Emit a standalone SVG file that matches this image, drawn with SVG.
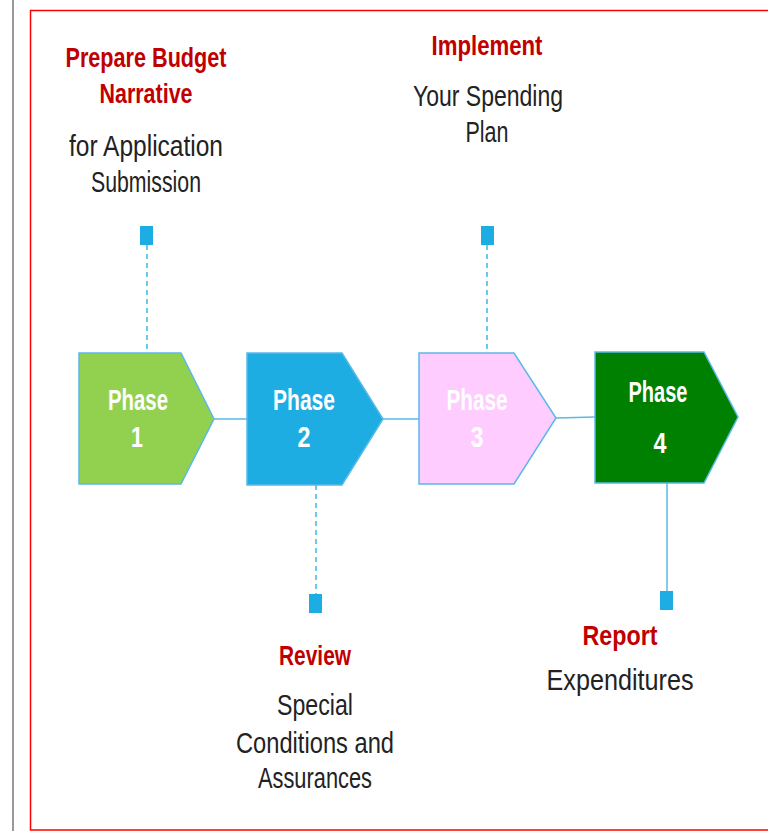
<svg xmlns="http://www.w3.org/2000/svg" width="768" height="831" viewBox="0 0 768 831">
<style>
.head{font-family:"Liberation Sans",Arial,sans-serif;font-weight:bold;font-size:28px;fill:#C00000;text-anchor:middle}
.body{font-family:"Liberation Sans",Arial,sans-serif;font-size:29px;fill:#222222;text-anchor:middle}
.ph{font-family:"Liberation Sans",Arial,sans-serif;font-weight:bold;font-size:29px;fill:#FFFFFF;text-anchor:middle}
.shape{stroke:#5BB8E8;stroke-width:1.5}
.dash{stroke:#1EADE3;stroke-width:1.3;stroke-dasharray:5,4;fill:none}
.solid{stroke:#5BB8E8;stroke-width:1.5;fill:none}
.sq{fill:#1EADE3}
</style>
<rect width="768" height="831" fill="#FFFFFF"/>
<line x1="13" y1="0" x2="13" y2="831" stroke="#999999" stroke-width="2"/>
<rect x="30.5" y="10.5" width="760" height="819.5" fill="none" stroke="#FF0000" stroke-width="1.5"/>
<g id="connectors">
<line class="solid" x1="214" y1="419" x2="247" y2="419"/>
<line class="solid" x1="383" y1="419" x2="419" y2="419"/>
<line class="solid" x1="556" y1="418" x2="595" y2="417" stroke-width="2"/>
<line class="dash" x1="147" y1="245" x2="147" y2="353"/>
<rect class="sq" x="140" y="226" width="13" height="19"/>
<line class="dash" x1="316" y1="485" x2="316" y2="594"/>
<rect class="sq" x="309" y="594" width="13" height="19"/>
<line class="dash" x1="487" y1="245" x2="487" y2="353"/>
<rect class="sq" x="481" y="226" width="13" height="19"/>
<line class="solid" x1="667" y1="483" x2="667" y2="591"/>
<rect class="sq" x="660" y="591" width="13" height="19"/>
</g>
<g id="phase1">
<polygon class="shape" fill="#92D050" points="79,353 181,353 214,419 181,484 79,484"/>
<text class="ph" x="138" y="410" textLength="60" lengthAdjust="spacingAndGlyphs">Phase</text>
<text class="ph" x="137" y="447" textLength="12" lengthAdjust="spacingAndGlyphs">1</text>
</g>
<g id="phase2">
<polygon class="shape" fill="#1EADE3" points="247,353 342,353 383,419 342,485 247,485"/>
<text class="ph" x="304" y="410" textLength="62" lengthAdjust="spacingAndGlyphs">Phase</text>
<text class="ph" x="304" y="447" textLength="13" lengthAdjust="spacingAndGlyphs">2</text>
</g>
<g id="phase3">
<polygon class="shape" fill="#FFCCFF" points="419,353 514,353 556,418 514,484 419,484"/>
<text class="ph" x="477" y="410" textLength="61" lengthAdjust="spacingAndGlyphs">Phase</text>
<text class="ph" x="477" y="447" textLength="13" lengthAdjust="spacingAndGlyphs">3</text>
</g>
<g id="phase4">
<polygon class="shape" fill="#008000" points="595,352 704,352 738,417 704,483 595,483"/>
<text class="ph" x="658" y="402" textLength="59" lengthAdjust="spacingAndGlyphs">Phase</text>
<text class="ph" x="660" y="453" textLength="13" lengthAdjust="spacingAndGlyphs">4</text>
</g>
<g id="label1">
<text class="head" x="146" y="67" textLength="161" lengthAdjust="spacingAndGlyphs">Prepare Budget</text>
<text class="head" x="146" y="103" textLength="93" lengthAdjust="spacingAndGlyphs">Narrative</text>
<text class="body" x="146" y="156" textLength="154" lengthAdjust="spacingAndGlyphs">for Application</text>
<text class="body" x="146" y="192" textLength="110" lengthAdjust="spacingAndGlyphs">Submission</text>
</g>
<g id="label3">
<text class="head" x="487" y="55" textLength="111" lengthAdjust="spacingAndGlyphs">Implement</text>
<text class="body" x="488" y="106" textLength="150" lengthAdjust="spacingAndGlyphs">Your Spending</text>
<text class="body" x="487" y="142" textLength="43" lengthAdjust="spacingAndGlyphs">Plan</text>
</g>
<g id="label2">
<text class="head" x="315" y="665" textLength="72" lengthAdjust="spacingAndGlyphs">Review</text>
<text class="body" x="315" y="715" textLength="76" lengthAdjust="spacingAndGlyphs">Special</text>
<text class="body" x="315" y="753" textLength="158" lengthAdjust="spacingAndGlyphs">Conditions and</text>
<text class="body" x="315" y="788" textLength="114" lengthAdjust="spacingAndGlyphs">Assurances</text>
</g>
<g id="label4">
<text class="head" x="620" y="645" textLength="75" lengthAdjust="spacingAndGlyphs">Report</text>
<text class="body" x="620" y="690" textLength="147" lengthAdjust="spacingAndGlyphs">Expenditures</text>
</g>
</svg>
